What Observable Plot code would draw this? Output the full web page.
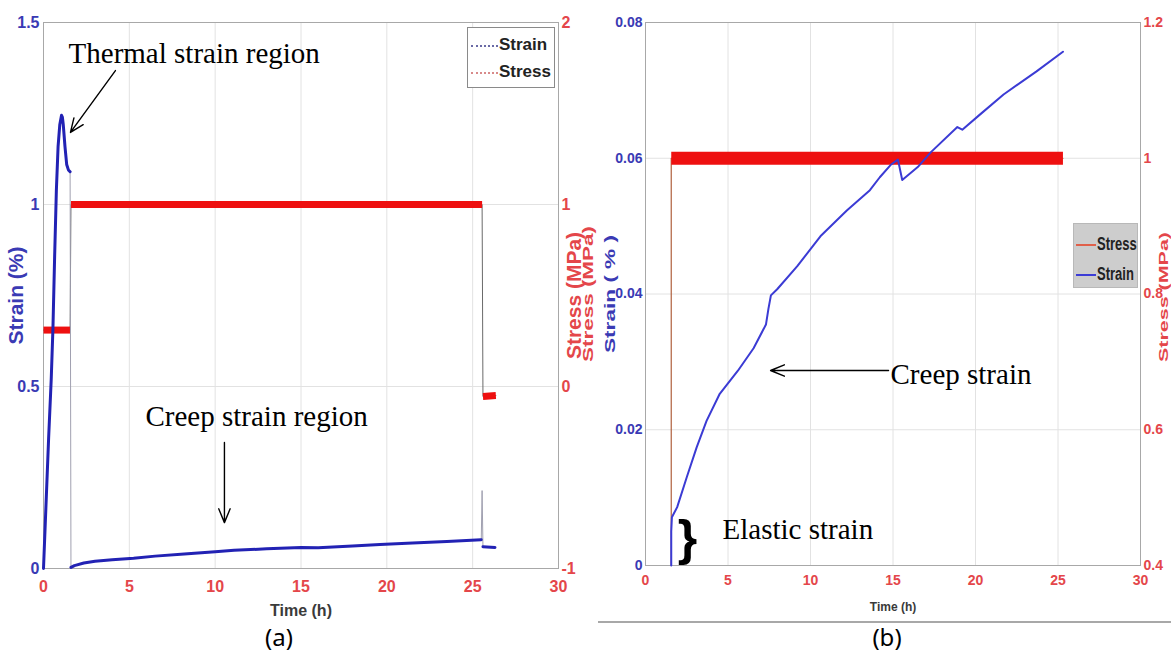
<!DOCTYPE html>
<html><head><meta charset="utf-8">
<script src="https://cdn.jsdelivr.net/npm/d3@7"></script>
<script src="https://cdn.jsdelivr.net/npm/@observablehq/plot@0.6"></script>
<style>
html,body{margin:0;padding:0;background:#fff;}
body{width:1171px;height:653px;overflow:hidden;position:relative;}
#panelA{position:absolute;left:0;top:0;}
#panelB{position:absolute;left:580px;top:0;}
.legend{position:absolute;box-sizing:border-box;font-family:"Liberation Sans",Arial,sans-serif;font-weight:bold;color:#222;}
.legend .row{position:absolute;left:0;right:0;height:20px;line-height:20px;}
.legend .sw{position:absolute;top:10px;height:0;}
.legend .lab{position:absolute;}
#ruleB{position:absolute;left:598px;top:621px;width:573px;height:0;border-top:2px solid #a8a8a8;}
</style></head><body>
<div id="panelA"></div>
<div id="panelB"></div>
<div id="ruleB"></div>
<div class="legend" id="legA" style="left:467px;top:27px;width:88px;height:61px;background:#fff;border:1px solid #8a8a8a;">
  <div class="row" style="top:7px;"><div class="sw" style="left:3px;width:27px;border-top:2px dotted #6a6aa6;"></div><div class="lab" style="left:31px;font-size:17px;">Strain</div></div>
  <div class="row" style="top:34px;"><div class="sw" style="left:3px;width:27px;border-top:2px dotted #d88a8a;"></div><div class="lab" style="left:31px;font-size:17px;">Stress</div></div>
</div>
<div class="legend" id="legB" style="left:1073px;top:223px;width:65px;height:65px;background:#cdcdcd;border:1px solid #b8b8b8;">
  <div class="row" style="top:10px;"><div class="sw" style="left:2px;width:20px;border-top:2px solid #e0604a;"></div><div class="lab" style="left:23px;font-size:13px;transform:scaleY(1.45);">Stress</div></div>
  <div class="row" style="top:40px;"><div class="sw" style="left:2px;width:20px;border-top:2px solid #3c3cd6;"></div><div class="lab" style="left:23px;font-size:13px;transform:scaleY(1.45);">Strain</div></div>
</div>
<script>
// ---------------- Panel (a) data ----------------
const timeTicks = [0, 5, 10, 15, 20, 25, 30];
const strainTicksA = [0, 0.5, 1, 1.5];
const stressTicksA = [-1, 0, 1, 2];

const strainTimeA = [0, 0.15, 0.3, 0.45, 0.55, 0.65, 0.75, 0.85, 0.95, 1.05, 1.1, 1.15, 1.25, 1.35, 1.45, 1.55,
  1.6, 1.8, 2.35, 3, 4, 5.25, 6.5, 8.2, 10, 11.1, 13, 15, 16, 18, 19.6, 21.5, 23.5, 25.5,
  25.55,
  25.6, 26.3];
const strainA = [0, 0.18, 0.36, 0.52, 0.66, 0.86, 1.04, 1.16, 1.22, 1.245, 1.24, 1.22, 1.16, 1.11, 1.095, 1.09,
  0.003, 0.008, 0.015, 0.02, 0.024, 0.028, 0.034, 0.04, 0.046, 0.05, 0.054, 0.058, 0.057, 0.062, 0.066, 0.07, 0.074, 0.079,
  0.214,
  0.06, 0.058];
const strainPhaseA = ["heat","heat","heat","heat","heat","heat","heat","heat","heat","heat","heat","heat","heat","heat","heat","heat",
  "creep","creep","creep","creep","creep","creep","creep","creep","creep","creep","creep","creep","creep","creep","creep","creep","creep","creep",
  null,
  "unload","unload"];

const stressTimeA = [0, 1.55, 1.6, 25.55, 25.6, 26.35];
const stressA = [0.31, 0.31, 1, 1, -0.055, -0.05];
const stressPhaseA = ["pre","pre","hold","hold","off","off"];

const annotTextA = ["Thermal strain region", "Creep strain region"];
const annotXA = [1.46, 5.94];
const annotYA = [1.415, 0.418];
const arrowX1A = [4.19, 10.54], arrowY1A = [1.368, 0.346];
const arrowX2A = [1.57, 10.54], arrowY2A = [1.198, 0.126];

// ---------------- Panel (b) data ----------------
const strainTicksB = [0, 0.02, 0.04, 0.06, 0.08];
const stressTicksB = [0.4, 0.6, 0.8, 1, 1.2];

const strainTimeB = [1.56, 1.56, 1.6, 1.92, 2.5, 3.1, 3.7, 4.5, 5.6, 6.55, 7.3, 7.45, 7.6, 7.98, 9.2, 10.6, 12.2, 13.6, 14.2, 14.85, 15.3, 15.56, 16.5, 17.3, 18.9, 19.2, 20.3, 21.7, 23.7, 25.3];
const strainB = [0, 0.005, 0.0071, 0.0086, 0.013, 0.0174, 0.0213, 0.0253, 0.0287, 0.032, 0.0355, 0.0378, 0.0398, 0.0407, 0.0441, 0.0485, 0.0523, 0.0553, 0.0572, 0.059, 0.0598, 0.0568, 0.0587, 0.0609, 0.0646, 0.0642, 0.0665, 0.0694, 0.0728, 0.0757];

const stressTimeB = [1.56, 1.56, 25.3];
const stressB = [0.4, 1.0, 1.0];
const stressPhaseB = [null, "hold", "hold"];

const annotTextB = ["Creep strain", "Elastic strain"];
const annotXB = [14.85, 4.67];
const annotYB = [0.02814, 0.0053];
const arrowX1B = [14.73], arrowY1B = [0.02873], arrowX2B = [7.58], arrowY2B = [0.02873];
const braceXB = [2.55], braceYB = [0.0039];

// ---------------- styles ----------------
const SANS = '"Liberation Sans",Arial,"DejaVu Sans",sans-serif';
const SERIF = '"Liberation Serif","DejaVu Serif",serif';
const BLUE_A = "#2222b4", BLUE_B = "#3b3bd4", RED = "#ee1010";
const TICK_RED = "#e4464a", TICK_BLUE = "#3a3ab4";
const svgStyle = "background: transparent; max-width: none; overflow: visible;";

const fmt = d => String(Math.round(d * 1000) / 1000);

// ---------- Panel (a) ----------
const yA = [0, 1.5], sA = [-1, 2];
const stressToLeftA = s => yA[0] + (s - sA[0]) / (sA[1] - sA[0]) * (yA[1] - yA[0]);
const leftToStressA = v => sA[0] + (v - yA[0]) / (yA[1] - yA[0]) * (sA[1] - sA[0]);

const strainRowsA = strainTimeA.map((t, i) => ({t, v: strainA[i], seg: strainPhaseA[i]}));
const stressRowsA = stressTimeA.map((t, i) => ({t, v: stressToLeftA(stressA[i]), seg: stressPhaseA[i]}));
const annotA = annotTextA.map((text, i) => ({text, x: annotXA[i], y: annotYA[i]}));
const arrowsA = arrowX1A.map((x1, i) => ({x1, y1: arrowY1A[i], x2: arrowX2A[i], y2: arrowY2A[i]}));

const label = (txt, o) => Plot.text([txt], {text: d => d, textAnchor: "middle", lineAnchor: "middle", fontFamily: SANS, fontWeight: "bold", ...o});

const plotA = Plot.plot({
  width: 600, height: 653,
  marginLeft: 43, marginRight: 42, marginTop: 22, marginBottom: 85,
  x: {domain: [0, 30]},
  y: {domain: yA},
  style: svgStyle,
  marks: [
    Plot.gridX(timeTicks.slice(1, -1), {stroke: "#e2e2e2", strokeOpacity: 1}),
    Plot.gridY(strainTicksA.slice(1, -1), {stroke: "#e2e2e2", strokeOpacity: 1}),
    Plot.frame({stroke: "#a8a8a8"}),
    Plot.line(stressRowsA, {x: "t", y: "v", stroke: "#6a6a6a", strokeWidth: 1}),
    Plot.line(stressRowsA.filter(d => d.seg), {x: "t", y: "v", z: "seg", stroke: RED, strokeWidth: 7, strokeLinecap: "butt"}),
    Plot.line(strainRowsA, {x: "t", y: "v", stroke: "#a0a0b0", strokeWidth: 1}),
    Plot.line(strainRowsA.filter(d => d.seg), {x: "t", y: "v", z: "seg", stroke: BLUE_A, strokeWidth: 3}),
    Plot.axisX(timeTicks, {anchor: "bottom", tickSize: 0, tickPadding: 12, fill: TICK_RED, fontSize: 16, fontWeight: "bold", fontFamily: SANS, label: null, tickFormat: fmt}),
    Plot.axisY(strainTicksA, {anchor: "left", tickSize: 0, tickPadding: 4, fill: TICK_BLUE, fontSize: 16, fontWeight: "bold", fontFamily: SANS, label: null, tickFormat: fmt}),
    Plot.axisY(stressTicksA.map(stressToLeftA), {anchor: "right", tickSize: 0, tickPadding: 3, fill: TICK_RED, fontSize: 16, fontWeight: "bold", fontFamily: SANS, label: null, tickFormat: d => fmt(leftToStressA(d))}),
    label("Strain (%)", {frameAnchor: "left", dx: -27, rotate: -90, fill: TICK_BLUE, fontSize: 21}),
    label("Stress (MPa)", {frameAnchor: "right", dx: 16, rotate: -90, fill: TICK_RED, fontSize: 21}),
    label("Time (h)", {frameAnchor: "bottom", dy: 42, fill: "#3a3a3a", fontSize: 16}),
    label("(a)", {frameAnchor: "bottom", dx: -22, dy: 70, fill: "#000", fontSize: 24, fontWeight: "normal", fontFamily: '"Noto Sans","Open Sans",sans-serif'}),
    Plot.text(annotA, {x: "x", y: "y", text: "text", textAnchor: "start", fill: "#000", fontSize: 29, fontFamily: SERIF}),
    Plot.arrow(arrowsA, {x1: "x1", y1: "y1", x2: "x2", y2: "y2", stroke: "#000", strokeWidth: 1.4, headLength: 16, headAngle: 45})
  ]
});
document.getElementById("panelA").appendChild(plotA);

// ---------- Panel (b) ----------
const yB = [0, 0.08], sB = [0.4, 1.2];
const stressToLeftB = s => yB[0] + (s - sB[0]) / (sB[1] - sB[0]) * (yB[1] - yB[0]);
const leftToStressB = v => sB[0] + (v - yB[0]) / (yB[1] - yB[0]) * (sB[1] - sB[0]);

const strainRowsB = strainTimeB.map((t, i) => ({t, v: strainB[i]}));
const stressRowsB = stressTimeB.map((t, i) => ({t, v: stressToLeftB(stressB[i]), seg: stressPhaseB[i]}));
const annotB = annotTextB.map((text, i) => ({text, x: annotXB[i], y: annotYB[i]}));
const arrowsB = arrowX1B.map((x1, i) => ({x1, y1: arrowY1B[i], x2: arrowX2B[i], y2: arrowY2B[i]}));
const braceB = braceXB.map((x, i) => ({x, y: braceYB[i], text: "}"}));

const plotB = Plot.plot({
  width: 591, height: 653,
  marginLeft: 65, marginRight: 31, marginTop: 22, marginBottom: 88,
  x: {domain: [0, 30]},
  y: {domain: yB},
  style: svgStyle,
  marks: [
    Plot.gridX(timeTicks.slice(1, -1), {stroke: "#e2e2e2", strokeOpacity: 1}),
    Plot.gridY(strainTicksB.slice(1, -1), {stroke: "#e2e2e2", strokeOpacity: 1}),
    Plot.frame({stroke: "#a8a8a8"}),
    Plot.line(stressRowsB, {x: "t", y: "v", stroke: "#b0603e", strokeWidth: 1.2}),
    Plot.line(stressRowsB.filter(d => d.seg), {x: "t", y: "v", z: "seg", stroke: RED, strokeWidth: 13, strokeLinecap: "butt"}),
    Plot.line(strainRowsB, {x: "t", y: "v", stroke: BLUE_B, strokeWidth: 2}),
    Plot.axisX(timeTicks, {anchor: "bottom", tickSize: 0, tickPadding: 10, fill: TICK_RED, fontSize: 14, fontWeight: "bold", fontFamily: SANS, label: null, tickFormat: fmt}),
    Plot.axisY(strainTicksB, {anchor: "left", tickSize: 0, tickPadding: 3, fill: TICK_BLUE, fontSize: 14, fontWeight: "bold", fontFamily: SANS, label: null, tickFormat: fmt}),
    Plot.axisY(stressTicksB.map(stressToLeftB), {anchor: "right", tickSize: 0, tickPadding: 3, fill: TICK_RED, fontSize: 14, fontWeight: "bold", fontFamily: SANS, label: null, tickFormat: d => fmt(leftToStressB(d))}),
    label("Stress (MPa)", {frameAnchor: "left", dx: -57, rotate: -90, fill: TICK_RED, fontSize: 14}),
    label("Strain ( % )", {frameAnchor: "left", dx: -35, rotate: -90, fill: TICK_BLUE, fontSize: 14}),
    label("Stress (MPa) ", {frameAnchor: "right", dx: 23.5, rotate: -90, fill: TICK_RED, fontSize: 13}),
    label("Time (h)", {frameAnchor: "bottom", dy: 42, fill: "#3a3a3a", fontSize: 12}),
    label("(b)", {frameAnchor: "bottom", dx: -6, dy: 73, fill: "#000", fontSize: 24, fontWeight: "normal", fontFamily: '"Noto Sans","Open Sans",sans-serif'}),
    Plot.text(annotB, {x: "x", y: "y", text: "text", textAnchor: "start", fill: "#000", fontSize: 29, fontFamily: SERIF}),
    Plot.text(braceB, {x: "x", y: "y", text: "text", fill: "#000", fontSize: 50, fontWeight: "bold", fontFamily: SANS}),
    Plot.arrow(arrowsB, {x1: "x1", y1: "y1", x2: "x2", y2: "y2", stroke: "#000", strokeWidth: 1.4, headLength: 16, headAngle: 45})
  ]
});
document.getElementById("panelB").appendChild(plotB);

// stretch rotated axis titles of panel (b) to the reference length
d3.select(plotB).selectAll("text").each(function() {
  const t = this.textContent;
  if (t === "Strain ( % )") d3.select(this).attr("textLength", 118).attr("lengthAdjust", "spacingAndGlyphs");
  if (t.startsWith("Stress (MPa)")) d3.select(this).attr("textLength", 136).attr("lengthAdjust", "spacingAndGlyphs");
});
</script>
</body></html>
